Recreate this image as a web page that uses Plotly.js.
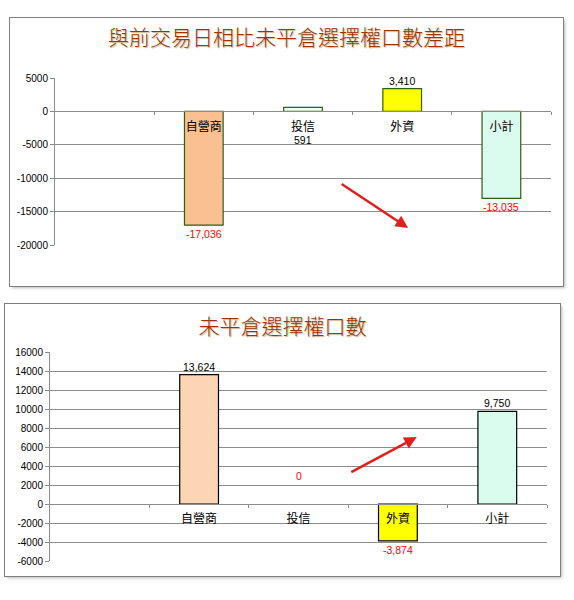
<!DOCTYPE html>
<html>
<head>
<meta charset="utf-8">
<script src="https://cdn.plot.ly/plotly-3.0.1.min.js"></script>
<style>
  body { margin: 0; background: #fff; }
  .box { position: absolute; outline: 1px solid #7f7f7f; box-shadow: 2px 2px 3px #b8b8b8; background: #fff; }
  #chart1 { left: 10px; top: 18px; width: 553px; height: 268px; }
  #chart2 { left: 5px; top: 304px; width: 555px; height: 272px; }
</style>
</head>
<body>
<div id="chart1" class="box"></div>
<div id="chart2" class="box"></div>
<script>
// data
const categories = ['自營商', '投信', '外資', '小計']
const diffValues = [-17036, 591, 3410, -13035]
const oiValues = [13624, 0, -3874, 9750]
const title1 = '與前交易日相比未平倉選擇權口數差距'
const title2 = '未平倉選擇權口數'
const yTicks1 = [5000, 0, -5000, -10000, -15000, -20000]
const yTicks2 = [16000, 14000, 12000, 10000, 8000, 6000, 4000, 2000, 0, -2000, -4000, -6000]

const fills1 = ['#F9C091', '#F2FFF8', '#FFFF00', '#DAFCEE']
const fills2 = ['#FCD5B4', '#FFFFFF', '#FFFF00', '#DAFCEE']

const cjk = '"Noto Sans CJK TC", sans-serif'
const num = '"Liberation Sans", Arial, sans-serif'

function fmt(v) {
  return v.toLocaleString('en-US')
}

function labels(values, shifts) {
  return values.map((v, i) => ({
    x: categories[i], y: v, xref: 'x', yref: 'y',
    text: fmt(v), showarrow: false,
    yshift: shifts[i],
    font: {family: num, size: 10.5, color: v > 0 ? '#000' : '#FF0000'}
  }))
}

function yaxis(range, ticks) {
  return {
    range, tickvals: ticks, ticktext: ticks.map(String),
    showgrid: true, gridcolor: '#8c8c8c', gridwidth: 1,
    zeroline: false, showline: true, linecolor: '#8c8c8c',
    ticks: 'outside', ticklen: 4, tickcolor: '#8c8c8c',
    tickfont: {family: num, size: 10, color: '#000'},
    fixedrange: true
  }
}

function xaxis(zeroPos) {
  return {
    type: 'category', range: [-1.5, 3.5],
    anchor: 'free', position: zeroPos,
    showline: true, linecolor: '#8c8c8c',
    ticks: 'outside', tickson: 'boundaries', ticklen: 3, tickcolor: '#8c8c8c',
    showgrid: false, ticklabelstandoff: 4,
    tickfont: {family: cjk, size: 12, color: '#000'}
  }
}

function titleObj(text, y) {
  return {
    text, x: 0.5, xanchor: 'center', y, yanchor: 'middle', yref: 'container',
    font: {family: cjk, size: 21, weight: 300, color: '#993300', shadow: '1px 1px 1px #d0b090'}
  }
}

// chart 1
Plotly.newPlot('chart1', [{
  type: 'bar', x: categories, y: diffValues, width: 0.39,
  marker: {color: fills1, line: {color: '#2F5F12', width: 1.2}},
  hoverinfo: 'skip'
}], {
  width: 553, height: 268,
  margin: {l: 45, r: 12, t: 60, b: 41},
  paper_bgcolor: '#fff', plot_bgcolor: '#fff',
  title: titleObj(title1, 1 - 20 / 268),
  showlegend: false,
  xaxis: xaxis(0.8),
  yaxis: yaxis([-20000, 5000], yTicks1),
  annotations: labels(diffValues, [-9, -33, 8, -9]).concat([{
    x: 2.06, y: -17450, xref: 'x', yref: 'y',
    ax: -68, ay: -45, showarrow: true,
    arrowhead: 2, arrowsize: 1, arrowwidth: 2.5, arrowcolor: '#E41E1E', text: ''
  }])
}, {staticPlot: true})

// chart 2
Plotly.newPlot('chart2', [{
  type: 'bar', x: categories, y: oiValues, width: 0.39,
  marker: {color: fills2, line: {color: '#000', width: oiValues.map(v => v === 0 ? 0 : 1.2)}},
  hoverinfo: 'skip'
}], {
  width: 555, height: 272,
  margin: {l: 45, r: 13, t: 48, b: 15},
  paper_bgcolor: '#fff', plot_bgcolor: '#fff',
  title: titleObj(title2, 1 - 23 / 272),
  showlegend: false,
  xaxis: xaxis(6000 / 22000),
  yaxis: yaxis([-6000, 16000], yTicks2),
  annotations: labels(oiValues, [8, 28, -9, 8]).concat([{
    x: 2.19, y: 7050, xref: 'x', yref: 'y',
    ax: -67, ay: 36, showarrow: true,
    arrowhead: 2, arrowsize: 1, arrowwidth: 2.5, arrowcolor: '#E41E1E', text: ''
  }])
}, {staticPlot: true})
</script>
</body>
</html>
